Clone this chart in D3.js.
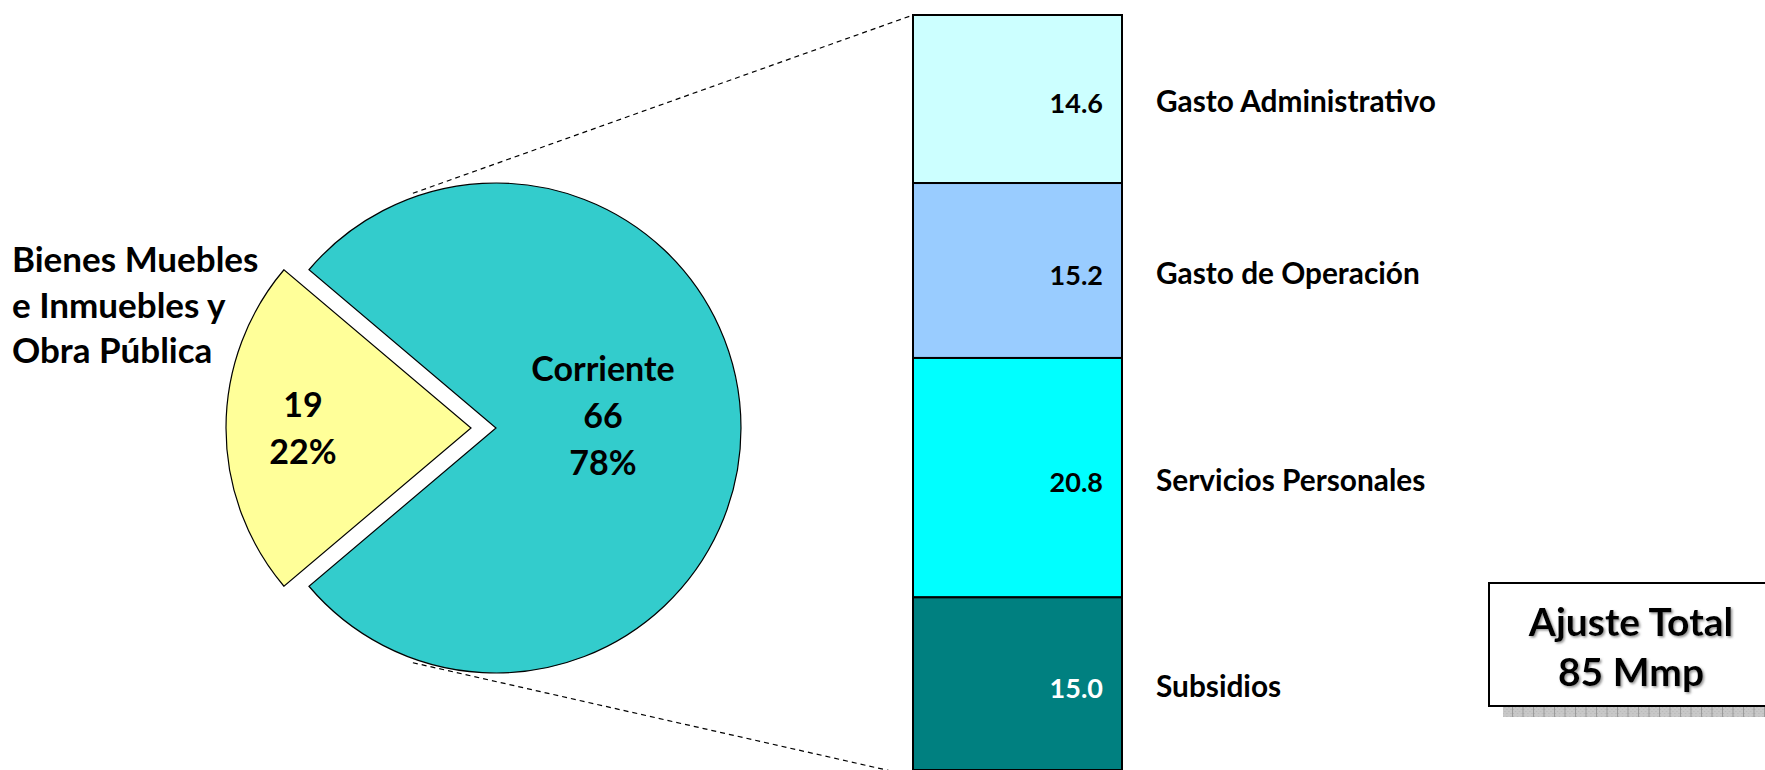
<!DOCTYPE html>
<html>
<head>
<meta charset="utf-8">
<script src="https://cdn.jsdelivr.net/npm/d3@7"></script>
<style>
  body { margin: 0; background: #fff; }
  text { font-family: Lato, "Open Sans", sans-serif; font-weight: bold; }
</style>
</head>
<body>
<svg id="chart"></svg>
<script>
// pie data
const pieNames = ["Corriente", "Bienes Muebles e Inmuebles y Obra Pública"];
const pieValues = [66, 19];
const pieColors = ["#33CCCC", "#FFFF99"];
const bienesLines = ["Bienes Muebles", "e Inmuebles y", "Obra Pública"];

// bar data (breakdown of Corriente)
const barCats = ["Gasto Administrativo", "Gasto de Operación", "Servicios Personales", "Subsidios"];
const barValues = [14.6, 15.2, 20.8, 15.0];
const barColors = ["#CCFFFF", "#99CCFF", "#00FFFF", "#008080"];
const barTextColors = ["#000", "#000", "#000", "#fff"];

// total box
const totalLines = ["Ajuste Total", "85 Mmp"];

const width = 1765;
const height = 770;

const svg = d3.select("#chart")
    .attr("width", width)
    .attr("height", height);

const defs = svg.append("defs");

// shadow strip pattern under the total box
const pat = defs.append("pattern")
    .attr("id", "grid")
    .attr("width", 10.5).attr("height", 11)
    .attr("patternUnits", "userSpaceOnUse");
pat.append("rect").attr("width", 10.5).attr("height", 11).attr("fill", "#c8c8c8");
for (let i = 0; i < 5; i++) {
  for (let j = 0; j < 5; j++) {
    if ((i + j) % 2 === 0) {
      pat.append("rect").attr("x", 1 + i * 2).attr("y", 1 + j * 2)
         .attr("width", 1).attr("height", 1).attr("fill", "#b4b4b4");
    }
  }
}
pat.append("rect").attr("x", 0).attr("y", 0).attr("width", 1).attr("height", 11).attr("fill", "#9a9a9a");

defs.append("filter").attr("id", "tshadow")
    .append("feDropShadow")
    .attr("dx", 1.5).attr("dy", 1.5).attr("stdDeviation", 0.8)
    .attr("flood-color", "#777").attr("flood-opacity", 0.8);

// ---------- pie ----------
const cx = 496, cy = 428, r = 245;
const explode = 25;
const total = d3.sum(pieValues);

// small slice centred on the left side
const start = 1.5 * Math.PI - 2 * Math.PI * (pieValues[0] + pieValues[1] / 2) / total;
const pie = d3.pie().sort(null).startAngle(start).endAngle(start + 2 * Math.PI);
const arcs = pie(pieValues);
const arc = d3.arc().innerRadius(0).outerRadius(r);

// label offsets from each slice centre
const labelAt = [[107, -12], [-168, 0]];
const pct = d3.format(".0%");

const pieG = svg.append("g").attr("transform", `translate(${cx},${cy})`);

const slice = pieG.selectAll("g.slice")
    .data(arcs)
    .join("g")
      .attr("class", "slice")
      .attr("transform", (d, i) => {
        if (i === 0) return null;
        const a = (d.startAngle + d.endAngle) / 2;
        return `translate(${Math.sin(a) * explode},${-Math.cos(a) * explode})`;
      });

slice.append("path")
    .attr("d", arc)
    .attr("fill", (d, i) => pieColors[i])
    .attr("stroke", "#000")
    .attr("stroke-width", 1.2);

slice.each(function(d, i) {
  const lines = i === 0 ? [pieNames[0], d.value, pct(d.value / total)] : [d.value, pct(d.value / total)];
  const t = d3.select(this).append("text")
      .attr("text-anchor", "middle")
      .attr("font-size", 34)
      .attr("fill", "#000");
  const n = lines.length;
  lines.forEach((s, k) => {
    t.append("tspan")
      .attr("x", labelAt[i][0])
      .attr("y", labelAt[i][1] + (k - (n - 1) / 2) * 47 + 12)
      .text(s);
  });
});

// outside label for the small slice
svg.append("text")
    .attr("font-size", 35)
    .selectAll("tspan")
    .data(bienesLines)
    .join("tspan")
      .attr("x", 12)
      .attr("y", (d, i) => 272 + i * 45.5)
      .text(d => d);

// ---------- stacked bar ----------
const barX = 913, barW = 209;
const cum = d3.cumsum(barValues);
const y = d3.scaleLinear().domain([0, d3.sum(barValues)]).range([15, 770]);

const segs = barValues.map((v, i) => ({ cat: barCats[i], v, y0: cum[i] - v, y1: cum[i], i }));

// connector lines from pie to bar
const tA = 19.5 * Math.PI / 180;
const conn = [
  [[cx + Math.sin(-tA) * (r + 4), cy - Math.cos(-tA) * (r + 4)], [barX, y(0)]],
  [[cx + Math.sin(Math.PI + tA) * (r + 4), cy - Math.cos(Math.PI + tA) * (r + 4)], [barX, y(d3.sum(barValues)) + 6]]
];
svg.append("g")
    .selectAll("line")
    .data(conn)
    .join("line")
      .attr("x1", d => d[0][0]).attr("y1", d => d[0][1])
      .attr("x2", d => d[1][0]).attr("y2", d => d[1][1])
      .attr("stroke", "#000")
      .attr("stroke-width", 1.2)
      .attr("stroke-dasharray", "5,4");

const bar = svg.append("g");
bar.selectAll("rect")
    .data(segs)
    .join("rect")
      .attr("x", barX)
      .attr("y", d => y(d.y0))
      .attr("width", barW)
      .attr("height", d => y(d.y1) - y(d.y0))
      .attr("fill", d => barColors[d.i])
      .attr("stroke", "#000")
      .attr("stroke-width", 2);

bar.selectAll("text.val")
    .data(segs)
    .join("text")
      .attr("class", "val")
      .attr("x", barX + barW - 19)
      .attr("y", d => (y(d.y0) + y(d.y1)) / 2 + 14)
      .attr("text-anchor", "end")
      .attr("font-size", 27)
      .attr("fill", d => barTextColors[d.i])
      .text(d => d3.format(".1f")(d.v));

bar.selectAll("text.cat")
    .data(segs)
    .join("text")
      .attr("class", "cat")
      .attr("x", 1156)
      .attr("y", d => (y(d.y0) + y(d.y1)) / 2 + 13)
      .attr("font-size", 29.8)
      .attr("fill", "#000")
      .text(d => d.cat);

// ---------- total box ----------
svg.append("rect")
    .attr("x", 1503).attr("y", 706)
    .attr("width", 270).attr("height", 11)
    .attr("fill", "url(#grid)");

svg.append("rect")
    .attr("x", 1489).attr("y", 583)
    .attr("width", 290).attr("height", 123)
    .attr("fill", "#fff")
    .attr("stroke", "#000")
    .attr("stroke-width", 2);

svg.append("text")
    .attr("text-anchor", "middle")
    .attr("font-size", 39)
    .attr("filter", "url(#tshadow)")
    .selectAll("tspan")
    .data(totalLines)
    .join("tspan")
      .attr("x", 1631)
      .attr("y", (d, i) => 636 + i * 50)
      .text(d => d);
</script>
</body>
</html>
